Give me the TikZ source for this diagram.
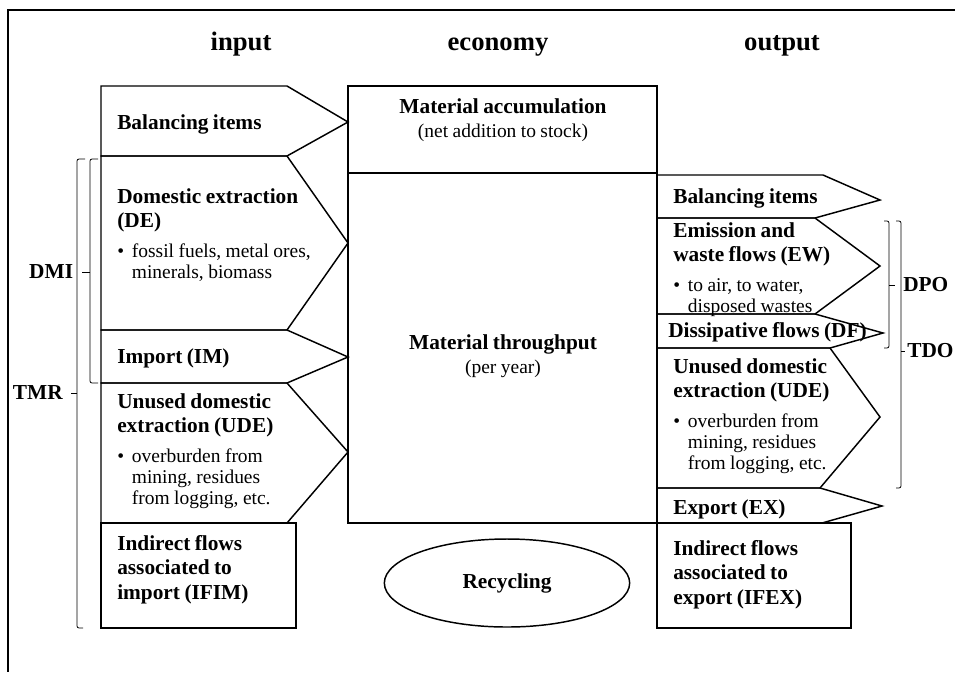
\documentclass[tikz,border=0pt]{standalone}
\usepackage{fontspec}
\setmainfont{Liberation Serif}
\usetikzlibrary{positioning,shapes.geometric}
\newcommand{\Hd}{\fontsize{16pt}{18.5pt}\selectfont\bfseries}
\newcommand{\Tx}{\fontsize{14.6pt}{16pt}\selectfont}
\newcommand{\Ttl}{\fontsize{20pt}{24pt}\selectfont\bfseries}
\newcommand{\Head}[1]{{\Hd #1\par}}
\newcommand{\Bul}[1]{\vspace{6pt}{\Tx\hangindent=11pt\hangafter=1\noindent\makebox[11pt][l]{\textbullet}#1\par}}
\tikzset{
  flow/.style={draw, line width=1.1pt},
  brk/.style={draw, line width=0.6pt, rounded corners=1.5pt},
  blk/.style={anchor=base west, inner sep=0pt, align=left, text width=190pt},
  ctr/.style={anchor=base, inner sep=0pt, align=center, text width=220pt},
  side/.style={inner sep=0pt, font=\Hd},
}
\newcommand{\InArrow}[3]{% #1=top, #2=bottom, #3=tip y
  \draw[flow] (101,#1) -- (287,#1) -- (348,#3) -- (287,#2) -- (101,#2) -- cycle;}
\newcommand{\OutArrow}[6]{% #1=top, #2=bottom, #3/#4=corner x top/bottom, #5/#6=tip
  \draw[flow] (657,#1) -- (#3,#1) -- (#5,#6) -- (#4,#2) -- (657,#2) -- cycle;}
\begin{document}
\begin{tikzpicture}[x=0.75pt,y=-0.75pt]
  \useasboundingbox (0,0) rectangle (955,672);
  \clip (0,0) rectangle (955,672);
  \draw[line width=1.1pt] (955,10) -- (8,10) -- (8,672);

  % column titles
  \node[anchor=base, font=\Ttl] (tIn) at (241,50) {input};
  \node[anchor=base, font=\Ttl] (tEco) at (498,50) {economy};
  \node[anchor=base, font=\Ttl] (tOut) at (782,50) {output};

  % economy
  \draw[flow] (348,86) rectangle (657,523);
  \draw[flow] (348,173) -- (657,173);
  \node[ctr] (acc) at (503,113) {\Head{Material accumulation}\vspace{2pt}{\Tx (net addition to stock)\par}};
  \node[ctr] (thr) at (503,349) {\Head{Material throughput}\vspace{2pt}{\Tx (per year)\par}};
  \node[draw, ellipse, line width=1.1pt, minimum width=184pt, minimum height=66pt, font=\Hd] (rec) at (507,583) {Recycling};

  % --- input side ---
  \InArrow{86}{156}{122}
  \node[blk] (inBal) at (117,129) {\Head{Balancing items}};
  \InArrow{156}{330}{243}
  \node[blk] (inDE) at (117,203) {\Head{Domestic extraction\newline (DE)}\Bul{fossil fuels, metal ores,\newline minerals, biomass}};
  \InArrow{330}{383}{357}
  \node[blk] (inIM) at (117,363) {\Head{Import (IM)}};
  \InArrow{383}{523}{452}
  \node[blk] (inUDE) at (117,408) {\Head{Unused domestic\newline extraction (UDE)}\Bul{overburden from\newline mining, residues\newline from logging, etc.}};
  \draw[flow] (101,523) rectangle (296,628);
  \node[blk] (inIF) at (117,550) {\Head{Indirect flows\newline associated to\newline import (IFIM)}};

  % --- output side ---
  \OutArrow{175}{218}{823}{815}{880}{200}
  \node[blk] (outBal) at (673,203) {\Head{Balancing items}};
  \OutArrow{218}{314}{815}{815}{880}{266}
  \node[blk] (outEW) at (673,237) {\Head{Emission and\newline waste flows (EW)}\Bul{to air, to water,\newline disposed wastes}};
  \OutArrow{314}{348}{815}{830}{883}{333}
  \node[blk] (outDF) at (668,337) {\Head{Dissipative flows (DF)}};
  \OutArrow{348}{488}{830}{820}{880}{417}
  \node[blk] (outUDE) at (673,373) {\Head{Unused domestic\newline extraction (UDE)}\Bul{overburden from\newline mining, residues\newline from logging, etc.}};
  \OutArrow{488}{523}{820}{822}{882}{506}
  \node[blk] (outEX) at (673,514) {\Head{Export (EX)}};
  \draw[flow] (657,523) rectangle (851,628);
  \node[blk] (outIF) at (673,555) {\Head{Indirect flows\newline associated to\newline export (IFEX)}};

  % brackets
  \coordinate (dmiTick) at (82,272);
  \draw[brk] (98,159) -- (90,159) -- (90,383) -- (98,383);
  \draw[brk] (90,272) -- (dmiTick);
  \node[side, left=6.5pt of dmiTick] (dmi) {DMI};
  \coordinate (tmrTick) at (71,393);
  \draw[brk] (85,159) -- (77,159) -- (77,628) -- (83,628);
  \draw[brk] (77,393) -- (tmrTick);
  \node[side, left=6pt of tmrTick] (tmr) {TMR};
  \coordinate (dpoTick) at (895,285);
  \draw[brk] (884,221) -- (889,221) -- (889,348) -- (884,348);
  \draw[brk] (889,285) -- (dpoTick);
  \node[side, right=6pt of dpoTick] (dpo) {DPO};
  \coordinate (tdoTick) at (905,351);
  \draw[brk] (896,221) -- (901,221) -- (901,488) -- (896,488);
  \draw[brk] (901,351) -- (tdoTick);
  \node[side, right=1.5pt of tdoTick] (tdo) {TDO};
\end{tikzpicture}
\end{document}
